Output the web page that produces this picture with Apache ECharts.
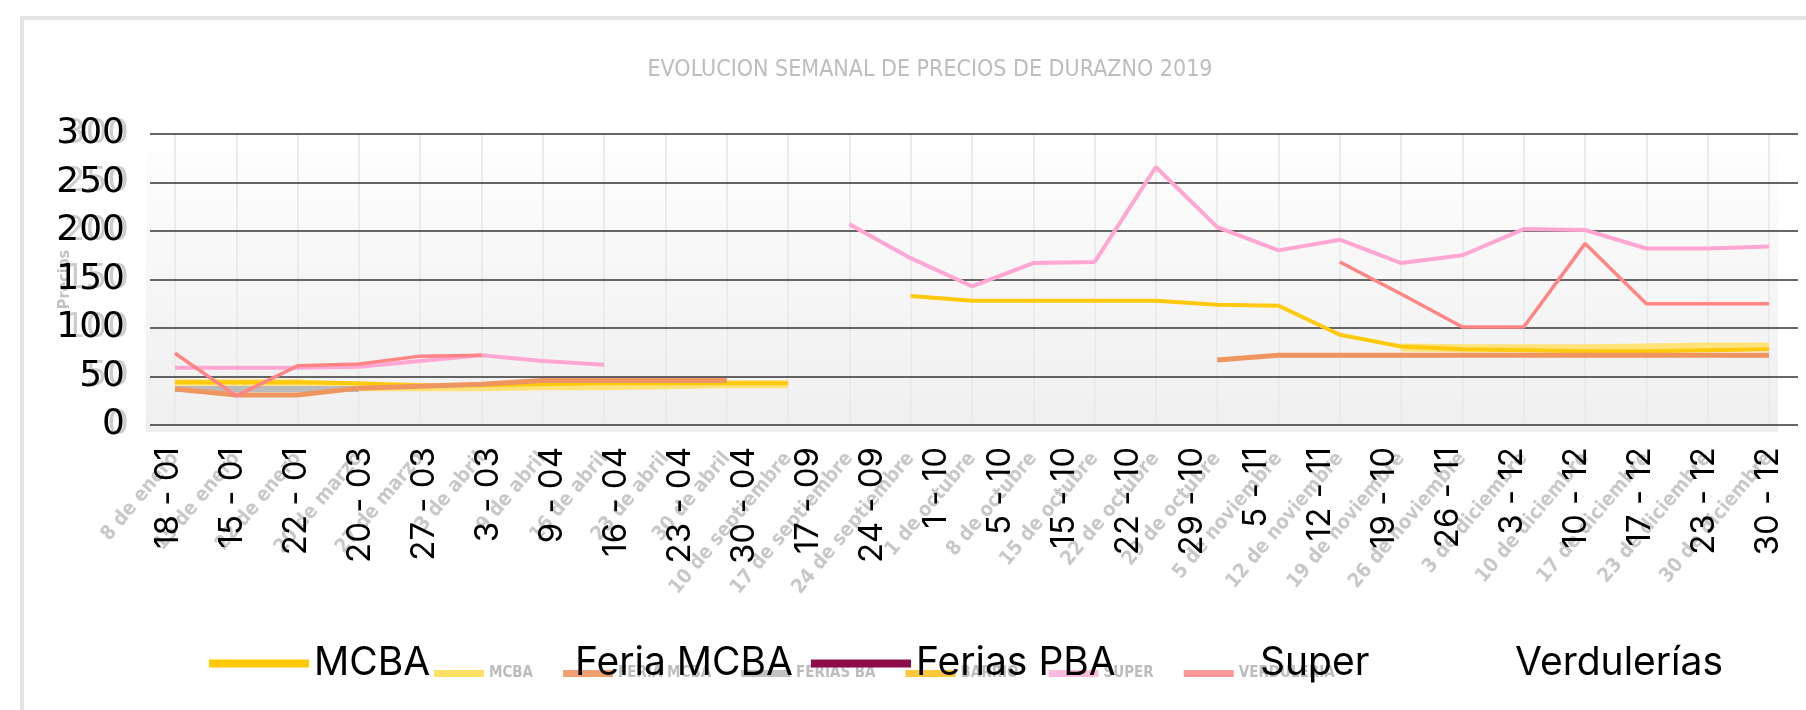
<!DOCTYPE html>
<html><head><meta charset="utf-8">
<script src="https://cdn.jsdelivr.net/npm/echarts@6/dist/echarts.min.js"></script>
<style>html,body{margin:0;padding:0;background:#fff}#c{width:1806px;height:710px}</style>
</head><body><div id="c"></div>
<script>
const titleText = 'EVOLUCION SEMANAL DE PRECIOS DE DURAZNO 2019';
const yAxisName = 'Precios';
const weekLabels = ['18 - 01','15 - 01','22 - 01','20 - 03','27 - 03','3 - 03','9 - 04','16 - 04','23 - 04','30 - 04','17 - 09','24 - 09','1 - 10','5 - 10','15 - 10','22 - 10','29 - 10','5 - 11','12 - 11','19 - 10','26 - 11','3 - 12','10 - 12','17 - 12','23 - 12','30 - 12'];
const dateLabels = ['8 de enero','15 de enero','22 de enero','20 de marzo','27 de marzo','3 de abril','9 de abril','16 de abril','23 de abril','30 de abril','10 de septiembre','17 de septiembre','24 de septiembre','1 de octubre','8 de octubre','15 de octubre','22 de octubre','29 de octubre','5 de noviembre','12 de noviembre','19 de noviembre','26 de noviembre','3 de diciembre','10 de diciembre','17 de diciembre','23 de diciembre','30 de diciembre'];
const legendNames = ['MCBA','Feria MCBA','Ferias PBA','Super','Verdulerías'];
const imageLegendNames = ['MCBA','FERIA MCBA','FERIAS BA','BARRIO','SUPER','VERDULERIA'];
const N = null;
const mcba       = [44,44,44,43,41,41,42,43,43,43,43,N,133,128,128,128,128,124,123,93,81,78,77,76,76,77,78];
const barrio     = [43,43,43,39,39,39,40,40,41,42,42,N,N,N,N,N,N,N,N,N,80,79,79,79,80,81,81];
const feriaMcba  = [37,31,31,38,40,42,46,46,46,46,N,N,N,N,N,N,N,67,72,72,72,72,72,72,72,72,72];
const feriasPba  = [37,37,37,37,N,N,N,N,N,N,N,N,N,N,N,N,N,N,N,N,N,N,N,N,N,N,N];
const superVals  = [59,59,59,60,66,72,66,62,N,N,N,207,172,143,167,168,266,204,180,191,167,175,202,201,182,182,184];
const verduleria = [74,30,61,63,71,72,N,N,N,N,N,N,N,N,N,N,N,N,N,168,135,101,101,187,125,125,125];

const crispFont = 'Inter';
const chart = echarts.init(document.getElementById('c'), null, {renderer:'canvas'});
function line(name, data, color, width, z){
  return {name, type:'line', data, xAxisIndex:1, yAxisIndex:1, symbol:'none', z,
    lineStyle:{color, width}, itemStyle:{color}, emphasis:{disabled:true}, animation:false};
}
function crispLegend(name, left, color){
  return {data:[{name, itemStyle:{color}}], left, top:639, icon:'rect', itemWidth:100, itemHeight:8,
    selectedMode:false, z:6, textStyle:{fontFamily:crispFont, fontSize:39, color:'#000'}};
}
const imgMap = {};
['MCBA','Feria MCBA','Ferias PBA','Barrio','Super','Verdulerías'].forEach((n,i)=>{imgMap[n]=imageLegendNames[i];});
chart.setOption({
  animation:false,
  backgroundColor:'#fff',
  title:{text:titleText, left:925, textAlign:'center', top:54,
    textStyle:{fontFamily:'DejaVu Sans Condensed', fontSize:23, fontWeight:'normal', color:'#bdbdbd'}},
  graphic:[{type:'rect', shape:{x:22,y:18,width:1800,height:700}, style:{fill:'none', stroke:'#e3e3e3', lineWidth:4}, z:-10, silent:true}],
  grid:[
    {left:146, right:28, top:153, bottom:278, show:true, borderWidth:0, z:0,
      backgroundColor:{type:'linear',x:0,y:0,x2:0,y2:1,colorStops:[{offset:0,color:'#fdfdfd'},{offset:1,color:'#efefef'}]}},
    {left:175, right:37, top:134, bottom:285},
    {left:150, right:8, top:134, bottom:285},
    {left:136, right:6, top:134, bottom:285}
  ],
  xAxis:[
    {gridIndex:0, type:'value', show:false},
    {gridIndex:1, type:'category', data:dateLabels, boundaryGap:false, axisLine:{show:false}, axisTick:{show:false},
      splitLine:{show:true, lineStyle:{color:'#ebebeb', width:2}},
      axisLabel:{interval:0, rotate:50, margin:30, color:'#c8c8c8', fontSize:20, fontWeight:'bold', fontFamily:'DejaVu Sans Condensed'}},
    {gridIndex:2, type:'value', show:false},
    {gridIndex:3, type:'category', data:weekLabels, boundaryGap:true, axisLine:{show:false}, axisTick:{show:false}, splitLine:{show:false},
      axisLabel:{interval:0, rotate:90, margin:22, color:'#000', fontSize:33, fontFamily:crispFont}}
  ],
  yAxis:[
    {gridIndex:0, type:'value', show:false},
    {gridIndex:1, type:'value', min:0, max:300, interval:50, splitLine:{show:false}, axisLine:{show:false}, axisTick:{show:false},
      axisLabel:{color:'#cdcdcd', fontSize:34, margin:46, fontFamily:'DejaVu Sans'},
      name:yAxisName, nameLocation:'middle', nameGap:102, nameMoveOverlap:false,
      nameTextStyle:{color:'#c2c2c2', fontSize:16, fontWeight:'bold', fontFamily:'DejaVu Sans Condensed'}},
    {gridIndex:2, type:'value', min:0, max:300, interval:50, z:3, axisLine:{show:false}, axisTick:{show:false},
      splitLine:{show:true, lineStyle:{color:'#333', width:1.5}},
      axisLabel:{color:'#000', fontSize:36, margin:25, fontFamily:'DejaVu Sans'}},
    {gridIndex:3, type:'value', show:false}
  ],
  legend:[
    {data:[{name:'MCBA',itemStyle:{color:'#FFE066'}},{name:'Feria MCBA',itemStyle:{color:'#F0A070'}},{name:'Ferias PBA',itemStyle:{color:'#C2C2C2'}},
           {name:'Barrio',itemStyle:{color:'#FFC83C'}},{name:'Super',itemStyle:{color:'#FFBBDD'}},{name:'Verdulerías',itemStyle:{color:'#FF9999'}}],
     formatter:n=>imgMap[n], left:429, top:661, icon:'rect', itemWidth:50, itemHeight:7, itemGap:30, selectedMode:false, z:1,
     textStyle:{fontFamily:'DejaVu Sans Condensed', fontSize:15, fontWeight:'bold', color:'#bdbdbd'}},
    crispLegend(legendNames[0], 204, '#FFC800'),
    crispLegend(legendNames[1], 465, 'rgba(0,0,0,0)'),
    crispLegend(legendNames[2], 806, '#8E0B4B'),
    crispLegend(legendNames[3], 1150, 'rgba(0,0,0,0)'),
    crispLegend(legendNames[4], 1405, 'rgba(0,0,0,0)')
  ],
  series:[
    line('Barrio', barrio, '#FFE27A', 8, 2),
    line('Ferias PBA', feriasPba, '#BBBBBB', 6, 3),
    line('MCBA', mcba, '#FFC90E', 4, 4),
    line('Feria MCBA', feriaMcba, '#EE9560', 5, 5),
    line('Super', superVals, '#FFA6D2', 4, 6),
    line('Verdulerías', verduleria, '#FF8585', 3.5, 7)
  ]
});
</script></body></html>
